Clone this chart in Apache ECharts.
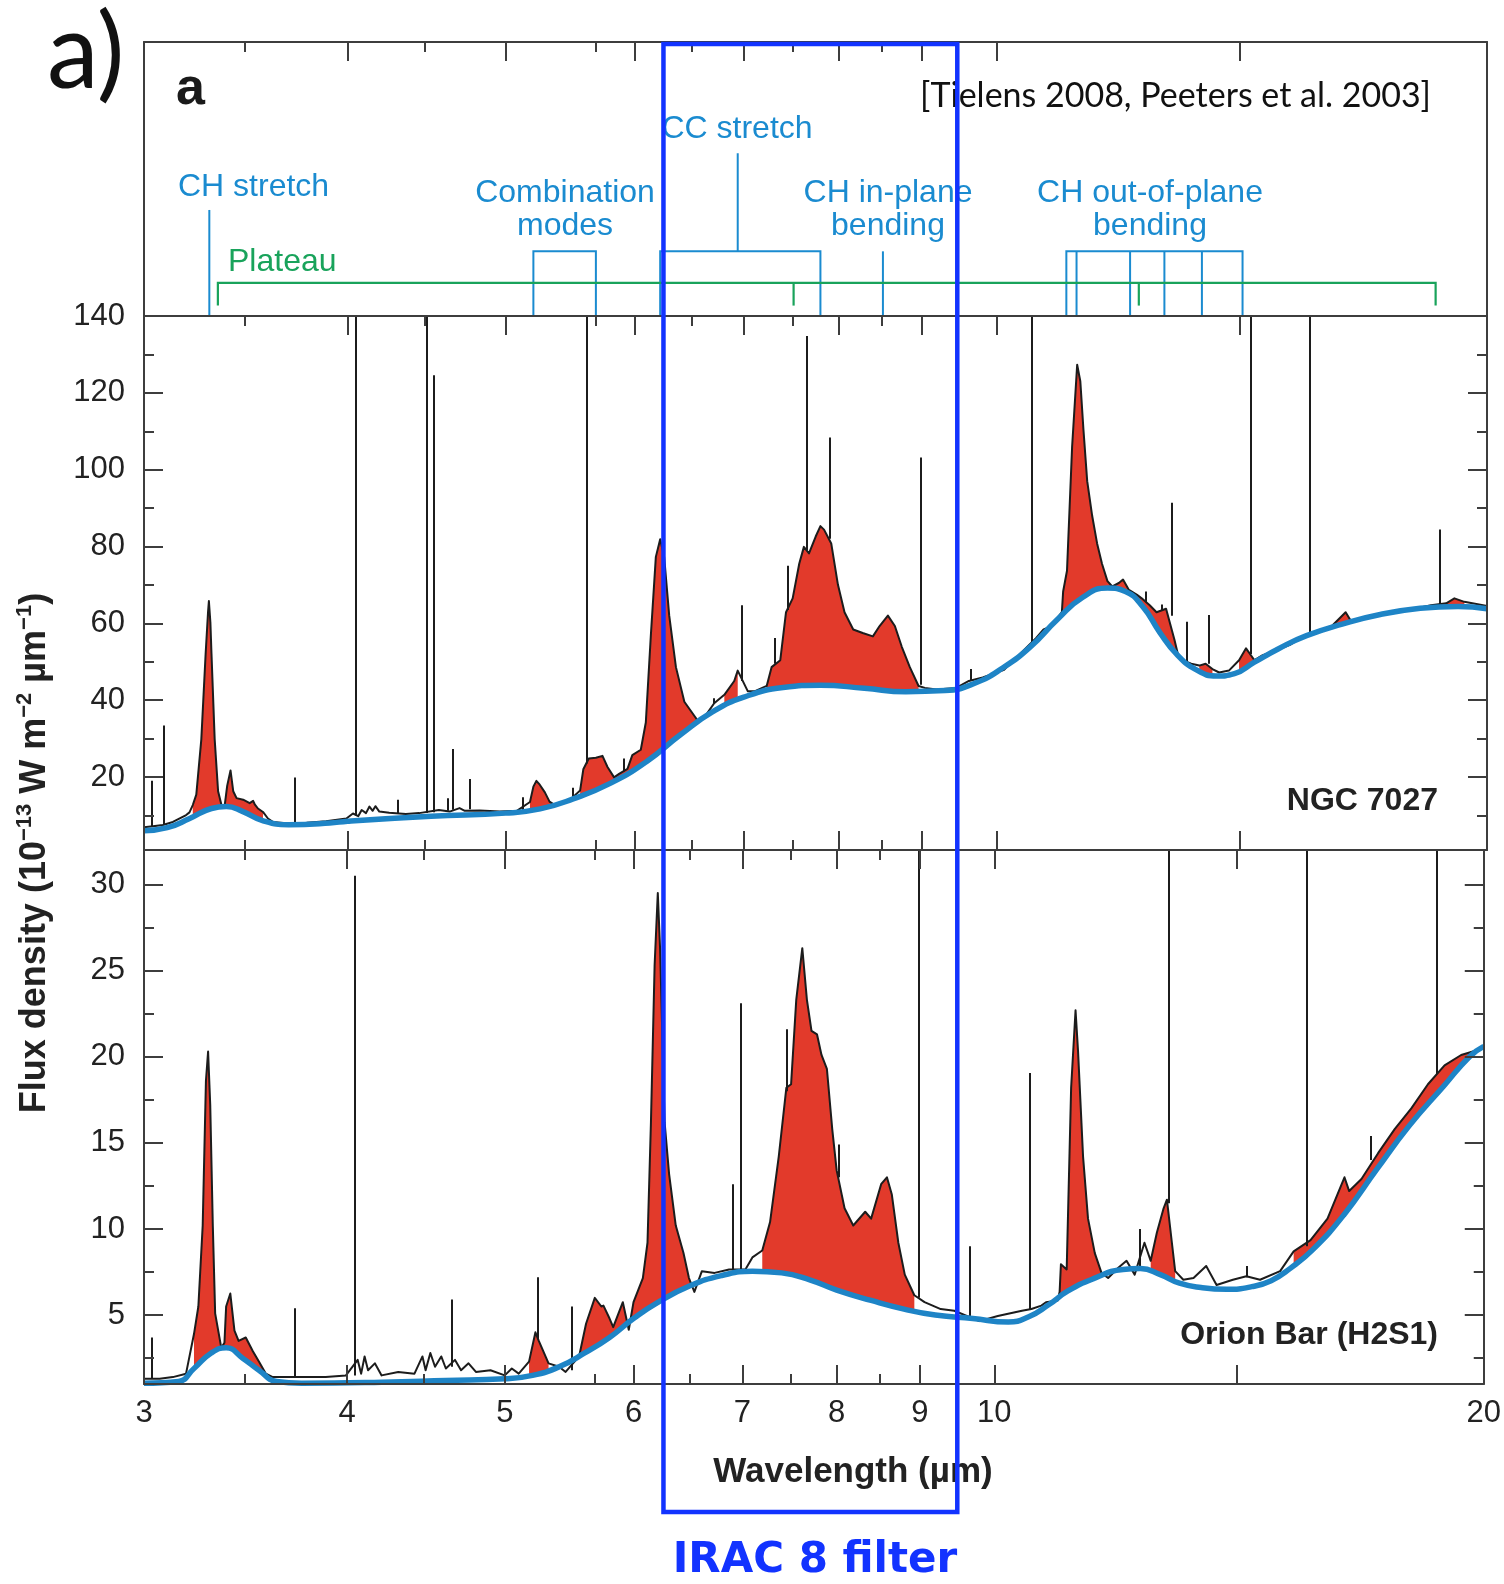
<!DOCTYPE html>
<html><head><meta charset="utf-8">
<script src="https://cdn.jsdelivr.net/npm/echarts@6/dist/echarts.min.js"></script>
<style>html,body{margin:0;padding:0;background:#fff;}#c{width:1504px;height:1584px;}</style>
</head><body><div id="c"></div>
<script>
// ---------------- DATA (wavelength in micron, flux density) ----------------
const ngcSpectrum = [[3.00,6.9],[3.038,7.2],[3.081,7.5],[3.125,8.3],[3.184,10.1],[3.199,10.8],[3.214,12.7],[3.23,15.4],[3.253,29.8],[3.273,52.2],[3.284,62.9],[3.288,65.8],[3.295,60.2],[3.30,52.2],[3.315,29.8],[3.331,16.3],[3.347,12.7],[3.362,12.5],[3.374,17.7],[3.39,21.7],[3.403,16.3],[3.419,14.5],[3.451,14.1],[3.483,13.2],[3.50,13.8],[3.508,12.9],[3.524,11.8],[3.549,10.9],[3.574,9.2],[3.60,8.3],[3.651,8.0],[3.775,8.1],[3.88,8.5],[3.993,9.2],[4.03,10.5],[4.06,9.8],[4.08,11.4],[4.105,10.6],[4.125,12.3],[4.144,11.2],[4.16,12.4],[4.183,11.0],[4.242,10.7],[4.343,10.4],[4.425,10.6],[4.55,11.4],[4.62,11.0],[4.685,11.9],[4.72,11.2],[4.82,11.3],[4.96,11.0],[5.08,11.2],[5.175,13.5],[5.20,17.5],[5.222,19.0],[5.247,18.0],[5.285,16.0],[5.32,13.6],[5.36,12.7],[5.42,13.5],[5.49,14.5],[5.555,16.5],[5.58,22.0],[5.623,24.8],[5.68,25.0],[5.733,25.5],[5.774,22.6],[5.828,19.9],[5.869,20.8],[5.939,22.1],[5.98,25.7],[6.052,27.1],[6.095,34.2],[6.138,56.6],[6.182,77.3],[6.22,81.9],[6.255,77.3],[6.30,62.0],[6.36,48.6],[6.436,39.6],[6.558,34.7],[6.635,36.1],[6.713,39.2],[6.81,41.4],[6.906,45.0],[6.94,47.7],[7.04,42.3],[7.106,42.3],[7.23,43.7],[7.28,48.6],[7.37,50.4],[7.43,62.9],[7.50,66.5],[7.57,75.5],[7.62,79.9],[7.675,78.2],[7.748,82.6],[7.80,85.3],[7.84,84.4],[7.92,80.8],[7.995,70.1],[8.07,62.9],[8.17,58.4],[8.28,57.5],[8.40,56.6],[8.48,59.3],[8.58,62.0],[8.665,59.3],[8.75,53.9],[8.85,48.6],[8.96,43.7],[9.04,43.2],[9.19,42.8],[9.45,43.2],[9.62,45.0],[9.81,45.9],[10.11,47.9],[10.40,53.1],[10.58,56.2],[10.69,58.4],[10.76,58.9],[10.89,61.1],[10.97,62.9],[10.99,68.3],[11.05,73.7],[11.13,105.9],[11.21,127.3],[11.26,123.0],[11.31,110.4],[11.37,97.0],[11.45,88.0],[11.53,80.8],[11.61,75.5],[11.70,71.0],[11.78,69.6],[11.89,70.5],[11.96,71.4],[12.06,68.7],[12.20,67.4],[12.28,66.5],[12.42,64.7],[12.54,62.9],[12.71,63.8],[12.86,55.8],[12.92,52.2],[13.01,50.4],[13.17,49.5],[13.32,49.0],[13.44,49.5],[13.57,48.1],[13.70,47.2],[13.89,47.7],[14.09,50.4],[14.23,53.5],[14.40,50.4],[14.57,51.7],[14.78,52.6],[15.14,54.4],[15.50,57.1],[15.66,57.5],[16.03,58.9],[16.38,62.9],[16.50,60.7],[16.81,61.6],[17.22,62.5],[17.63,63.4],[18.05,63.8],[18.48,64.7],[18.88,65.2],[19.10,66.5],[19.37,65.6],[20.0,64.5]];

const ngcContinuum = [[3.00,6.0],[3.10,6.8],[3.20,9.2],[3.30,11.8],[3.37,12.3],[3.45,11.0],[3.55,8.6],[3.68,7.6],[3.90,8.0],[4.00,8.5],[4.50,9.8],[5.00,10.6],[5.25,11.7],[5.50,14.3],[5.80,18.4],[6.10,24.0],[6.40,31.0],[6.70,37.0],[7.00,40.8],[7.40,43.3],[7.80,43.9],[8.30,43.1],[8.80,42.2],[9.30,42.5],[9.70,44.4],[10.10,48.5],[10.50,54.0],[10.90,61.0],[11.30,66.8],[11.70,69.2],[12.00,68.3],[12.30,64.3],[12.60,57.6],[12.90,52.0],[13.25,48.0],[13.65,46.3],[14.00,46.9],[14.40,49.9],[14.90,53.4],[15.50,56.8],[16.30,59.8],[17.20,62.3],[18.20,63.9],[19.20,64.4],[20.0,63.8]];

// narrow emission lines: [wavelength, base, peak]
const ngcLines = [[3.034,7.2,19.0],[3.084,7.5,33.4],[3.712,8.0,19.9],[4.046,10.0,150],[4.291,10.6,14.1],[4.470,10.6,150],[4.516,10.8,124.6],[4.605,11.2,14.5],[4.638,11.5,27.3],[4.755,11.6,19.5],[5.125,11.1,14.7],[5.50,14.6,17.2],[5.61,23.5,150],[5.91,21.5,24.8],[6.71,39.0,40.5],[6.98,45.0,64.7],[7.31,49.5,56.2],[7.45,63.5,75.0],[7.65,79.0,134.8],[7.90,82.0,108.4],[8.99,44.0,103.2],[9.64,45.0,48.1],[10.51,55.0,150],[12.35,65.5,68.3],[12.64,63.5,64.9],[12.81,62.0,91.4],[13.09,50.0,60.4],[13.50,49.5,62.2],[14.32,52.0,150],[15.56,57.0,150],[18.72,65.0,84.4]];

// wavelength ranges where the PAH emission is shaded
const ngcPahRanges = [[3.20,3.56],[5.15,5.40],[5.55,6.56],[6.75,6.95],[7.2,9.0],[10.95,13.05],[13.2,13.6],[13.95,14.45],[15.6,17.4],[18.3,19.6]];

const orionSpectrum = [[3.00,1.3],[3.067,1.3],[3.125,1.4],[3.184,1.6],[3.22,3.9],[3.24,5.5],[3.26,10.2],[3.275,18.6],[3.285,20.3],[3.295,17.2],[3.307,10.2],[3.318,5.1],[3.347,3.1],[3.362,3.4],[3.37,5.5],[3.39,6.25],[3.41,4.1],[3.43,3.5],[3.465,3.7],[3.50,2.9],[3.53,2.3],[3.565,1.6],[3.60,1.4],[3.775,1.4],[3.88,1.4],[3.993,1.5],[4.06,2.4],[4.08,1.6],[4.10,2.6],[4.12,1.8],[4.16,2.2],[4.20,1.5],[4.30,1.7],[4.40,1.6],[4.45,2.6],[4.47,1.8],[4.50,2.8],[4.53,2.0],[4.57,2.6],[4.60,1.9],[4.66,2.4],[4.70,1.8],[4.75,2.2],[4.80,1.7],[4.90,1.8],[5.00,1.5],[5.05,1.9],[5.10,1.6],[5.175,2.3],[5.222,4.0],[5.247,3.5],[5.32,2.2],[5.40,2.0],[5.45,1.7],[5.555,2.6],[5.61,4.5],[5.68,6.0],[5.733,5.5],[5.75,5.55],[5.80,4.8],[5.83,4.3],[5.91,5.75],[5.96,4.15],[6.0,5.75],[6.08,7.15],[6.12,9.2],[6.15,16.2],[6.182,25.3],[6.21,29.5],[6.23,26.3],[6.27,16.2],[6.31,13.2],[6.37,10.2],[6.44,8.6],[6.49,7.15],[6.54,6.35],[6.61,7.55],[6.73,7.45],[6.87,7.65],[7.03,7.65],[7.10,8.35],[7.20,8.75],[7.28,10.4],[7.37,14.2],[7.45,18.2],[7.50,18.4],[7.555,23.3],[7.62,26.3],[7.67,23.3],[7.72,21.5],[7.78,21.3],[7.83,20.1],[7.89,19.3],[7.95,15.8],[8.00,13.4],[8.09,11.2],[8.19,10.2],[8.33,11.0],[8.40,10.6],[8.52,12.6],[8.59,13.0],[8.65,12.0],[8.73,9.2],[8.81,7.35],[8.93,6.15],[9.06,5.75],[9.27,5.35],[9.45,5.25],[9.79,4.65],[10.05,4.95],[10.40,5.25],[10.54,5.35],[10.69,5.55],[10.76,5.75],[10.94,5.85],[10.97,6.35],[10.99,7.95],[11.08,7.65],[11.15,18.2],[11.22,22.7],[11.26,20.3],[11.34,14.2],[11.42,10.6],[11.53,8.6],[11.64,7.45],[11.75,7.15],[11.92,7.75],[12.06,8.15],[12.20,7.35],[12.37,9.2],[12.48,8.15],[12.59,9.8],[12.71,11.2],[12.77,11.7],[12.86,9.2],[12.92,7.55],[13.07,7.05],[13.26,7.15],[13.50,7.85],[13.70,6.75],[14.02,7.05],[14.29,7.25],[14.57,7.05],[14.99,7.55],[15.28,8.7],[15.65,9.35],[16.03,10.6],[16.42,13.0],[16.53,12.2],[16.82,12.9],[17.22,14.4],[17.63,15.8],[18.05,17.0],[18.48,18.4],[18.92,19.5],[19.37,20.1],[20.0,20.5]];

const orionContinuum = [[3.00,1.05],[3.15,1.15],[3.22,1.9],[3.30,2.8],[3.37,3.1],[3.45,2.5],[3.53,1.8],[3.62,1.15],[3.75,1.05],[4.20,1.1],[4.60,1.2],[5.00,1.3],[5.20,1.5],[5.40,2.0],[5.60,2.8],[5.80,3.7],[6.00,4.8],[6.20,5.7],[6.50,6.7],[6.80,7.3],[7.10,7.55],[7.40,7.45],[7.70,7.05],[8.00,6.45],[8.40,5.85],[8.80,5.35],[9.20,5.0],[9.70,4.8],[10.20,4.6],[10.50,4.9],[10.80,5.6],[11.10,6.4],[11.50,7.1],[12.00,7.65],[12.30,7.7],[12.65,7.35],[13.00,6.85],[13.40,6.6],[13.90,6.5],[14.40,6.65],[14.80,7.0],[15.20,7.7],[15.70,8.8],[16.40,10.8],[17.20,13.5],[18.00,16.0],[18.90,18.3],[19.60,20.0],[20.0,20.6]];

const orionLines = [[3.034,1.3,3.7],[3.712,1.4,5.4],[4.046,1.5,30.5],[4.638,2.0,5.9],[5.24,3.6,7.2],[5.50,1.8,5.5],[6.91,7.6,12.6],[6.985,7.65,23.1],[7.45,18.0,21.6],[8.02,13.0,14.9],[8.99,6.0,34],[9.66,4.8,9.0],[10.51,5.3,19.05],[12.28,7.7,10.0],[12.81,11.5,34],[14.29,7.2,7.85],[15.56,9.0,34],[17.05,14.0,15.4],[18.72,19.0,34]];

const orionPahRanges = [[3.20,3.57],[5.15,5.33],[5.55,6.56],[7.15,8.95],[10.97,11.65],[12.45,12.93],[13.35,13.65],[15.2,20.0]];

// axis ticks / labels
const xMajorTicks = [4,5,6,7,8,9,10,14.1];
const xMinorTicks = [3.46,4.46,5.68,6.5,7.5,8.5];
const xTickLabels = [3,4,5,6,7,8,9,10,20];
const ngcYRange = [1,140];
const ngcYMajor = [20,40,60,80,100,120,140];
const ngcYMinor = [10,30,50,70,90,110,130];
const orionYRange = [1,32];
const orionYMajor = [5,10,15,20,25,30];
const orionYMinor = [2.5,7.5,12.5,17.5,22.5,27.5];

// band assignment annotations (wavelengths in micron, heights as fraction of the annotation strip)
const chStretchX = 3.29;
const plateauRange = [3.33,18.6];
const plateauTicks = [7.51,12.23];
const combinationRange = [5.20,5.68];
const ccRange = [6.22,7.80];
const ccStemX = 6.94;
const inPlaneX = 8.52;
const outOfPlaneTicks = [11.04,11.2,12.08,12.68,13.37,14.16];
const bracketLevel = 0.236, plateauLevel = 0.121, plateauFoot = 0.038, chStemTop = 0.387, ccStemTop = 0.594;

const iracRange = [6.26,9.49];

// ---------------- STYLE ----------------
const RED='#e23a2b', CONT='#1e84c6', BLACK='#1c1c1c', ANNBLUE='#1a8bd0', GREEN='#19a35b', IRAC='#1233ff', AX='#3d3d3d';
const FONT='Liberation Sans';
const L = v => Math.log10(v);
const X0 = L(3), X1 = L(20);
const xy = p => [L(p[0]), p[1]];

function xAxis(gi, pos, ticks, len, line, labels) {
  return {
    type:'value', gridIndex:gi, position:pos, min:X0, max:X1, z:6,
    axisLine:{show:line, onZero:false, lineStyle:{color:AX, width:2}},
    axisTick: ticks ? {show:true, inside:true, length:len, customValues:ticks.map(L), lineStyle:{color:AX, width:2}} : {show:false},
    axisLabel: labels ? {show:true, customValues:labels.map(L), formatter:v=>String(Math.round(Math.pow(10,v))), fontSize:31, fontFamily:FONT, color:'#222', margin:14} : {show:false},
    splitLine:{show:false}
  };
}
function yAxis(gi, pos, range, ticks, len, line, labels) {
  return {
    type:'value', gridIndex:gi, position:pos, min:range[0], max:range[1], z:6,
    axisLine:{show:line, onZero:false, lineStyle:{color:AX, width:2}},
    axisTick: ticks ? {show:true, inside:true, length:len, customValues:ticks, lineStyle:{color:AX, width:2}} : {show:false},
    axisLabel: labels ? {show:true, customValues:labels, fontSize:31, fontFamily:FONT, color:'#222', margin:19} : {show:false},
    splitLine:{show:false}
  };
}

const xAxes = [
  xAxis(0,'top',xMajorTicks,19,true,null),      //0
  xAxis(0,'top',xMinorTicks,10,false,null),     //1
  xAxis(0,'bottom',null,0,true,null),           //2
  xAxis(1,'top',xMajorTicks,19,true,null),      //3
  xAxis(1,'top',xMinorTicks,10,false,null),     //4
  xAxis(1,'bottom',xMajorTicks,19,true,null),   //5
  xAxis(1,'bottom',xMinorTicks,10,false,null),  //6
  xAxis(2,'top',xMajorTicks,19,true,null),      //7
  xAxis(2,'top',xMinorTicks,10,false,null),     //8
  xAxis(2,'bottom',xMajorTicks,19,true,xTickLabels), //9
  xAxis(2,'bottom',xMinorTicks,10,false,null)   //10
];
const yAxes = [
  yAxis(0,'left',[0,1],null,0,true,null),        //0
  yAxis(0,'right',[0,1],null,0,true,null),       //1
  yAxis(1,'left',ngcYRange,ngcYMajor,19,true,ngcYMajor), //2
  yAxis(1,'left',ngcYRange,ngcYMinor,10,false,null),     //3
  yAxis(1,'right',ngcYRange,ngcYMajor,19,true,null),     //4
  yAxis(1,'right',ngcYRange,ngcYMinor,10,false,null),    //5
  yAxis(2,'left',orionYRange,orionYMajor,19,true,orionYMajor), //6
  yAxis(2,'left',orionYRange,orionYMinor,10,false,null),       //7
  yAxis(2,'right',orionYRange,orionYMajor,19,true,null),       //8
  yAxis(2,'right',orionYRange,orionYMinor,10,false,null)       //9
];

const series = [];
const blueBrackets = [
  [[chStretchX,0],[chStretchX,chStemTop]],
  [[combinationRange[0],0],[combinationRange[0],bracketLevel],[combinationRange[1],bracketLevel],[combinationRange[1],0]],
  [[ccRange[0],0],[ccRange[0],bracketLevel],[ccRange[1],bracketLevel],[ccRange[1],0]],
  [[ccStemX,bracketLevel],[ccStemX,ccStemTop]],
  [[inPlaneX,0],[inPlaneX,bracketLevel]],
  [[outOfPlaneTicks[0],0],[outOfPlaneTicks[0],bracketLevel],[outOfPlaneTicks[outOfPlaneTicks.length-1],bracketLevel],[outOfPlaneTicks[outOfPlaneTicks.length-1],0]]
].concat(outOfPlaneTicks.slice(1,-1).map(t=>[[t,0],[t,bracketLevel]]));
const greenBrackets = [
  [[plateauRange[0],plateauFoot],[plateauRange[0],plateauLevel],[plateauRange[1],plateauLevel],[plateauRange[1],plateauFoot]]
].concat(plateauTicks.map(t=>[[t,plateauLevel],[t,plateauFoot]]));

series.push({type:'lines', coordinateSystem:'cartesian2d', xAxisIndex:2, yAxisIndex:0, polyline:true, silent:true, z:5,
  lineStyle:{color:ANNBLUE, width:2, opacity:1}, data: blueBrackets.map(c=>({coords:c.map(xy)}))});
series.push({type:'lines', coordinateSystem:'cartesian2d', xAxisIndex:2, yAxisIndex:0, polyline:true, silent:true, z:5,
  lineStyle:{color:GREEN, width:2.2, opacity:1}, data: greenBrackets.map(c=>({coords:c.map(xy)}))});

function panel(xi, yi, spec, cont, lines, ranges) {
  ranges.forEach(r => series.push({type:'line', xAxisIndex:xi, yAxisIndex:yi, silent:true, symbol:'none', z:1,
    data: spec.filter(p=>p[0]>=r[0] && p[0]<=r[1]).map(xy),
    lineStyle:{opacity:0}, areaStyle:{color:RED, opacity:1, origin:'start'}}));
  series.push({type:'line', xAxisIndex:xi, yAxisIndex:yi, silent:true, symbol:'none', z:2, smooth:0.5,
    data: cont.map(xy), lineStyle:{opacity:0}, areaStyle:{color:'#ffffff', opacity:1, origin:'start'}});
  series.push({type:'line', xAxisIndex:xi, yAxisIndex:yi, silent:true, symbol:'none', z:3,
    data: spec.map(xy), lineStyle:{color:BLACK, width:2, join:'round'}});
  series.push({type:'lines', coordinateSystem:'cartesian2d', xAxisIndex:xi, yAxisIndex:yi, silent:true, z:3, clip:true,
    data: lines.map(l=>({coords:[[L(l[0]),l[1]],[L(l[0]),l[2]]]})), lineStyle:{color:BLACK, width:2, opacity:1}});
  series.push({type:'line', xAxisIndex:xi, yAxisIndex:yi, silent:true, symbol:'none', z:4, smooth:0.5,
    data: cont.map(xy), lineStyle:{color:CONT, width:5.5}});
}
panel(5, 2, ngcSpectrum, ngcContinuum, ngcLines, ngcPahRanges);
panel(9, 6, orionSpectrum, orionContinuum, orionLines, orionPahRanges);

const chart = echarts.init(document.getElementById('c'), null, {renderer:'canvas', width:1504, height:1584});
chart.setOption({
  animation:false,
  backgroundColor:'#ffffff',
  textStyle:{fontFamily:FONT},
  grid:[
    {left:144, right:17, top:42, height:274},
    {left:144, right:17, top:316, height:534},
    {left:144, right:17, top:850, height:534}
  ],
  xAxis:xAxes, yAxis:yAxes, series:series
});

const xl = chart.convertToPixel({xAxisIndex:9}, L(iracRange[0]));
const xr = chart.convertToPixel({xAxisIndex:9}, L(iracRange[1]));
const ann = (txt, x, y, color, align) => ({type:'text', x:x, y:y, z:50, style:{text:txt, fill:color, font:'32px "Liberation Sans"', align:align||'center', verticalAlign:'middle'}});
chart.setOption({graphic:[
  {type:'text', x:47, y:54, z:50, style:{text:'a)', fill:'#111', font:'104px Lato', align:'left', verticalAlign:'middle'}},
  {type:'text', x:176, y:90, z:50, style:{text:'a', fill:'#1a1a1a', font:'bold 52px "Liberation Sans"', align:'left', verticalAlign:'middle'}},
  {type:'text', x:1431, y:96, z:50, style:{text:'[Tielens 2008, Peeters et al. 2003]', fill:'#111', font:'34px Lato', align:'right', verticalAlign:'middle'}},
  ann('CH stretch', 178, 187, ANNBLUE, 'left'),
  ann('Plateau', 228, 262, GREEN, 'left'),
  ann('Combination', 565, 193, ANNBLUE),
  ann('modes', 565, 226, ANNBLUE),
  ann('CC stretch', 737, 129, ANNBLUE),
  ann('CH in-plane', 888, 193, ANNBLUE),
  ann('bending', 888, 226, ANNBLUE),
  ann('CH out-of-plane', 1150, 193, ANNBLUE),
  ann('bending', 1150, 226, ANNBLUE),
  {type:'text', x:1438, y:801, z:50, style:{text:'NGC 7027', fill:'#222', font:'bold 32px "Liberation Sans"', align:'right', verticalAlign:'middle'}},
  {type:'text', x:1438, y:1335, z:50, style:{text:'Orion Bar (H2S1)', fill:'#222', font:'bold 32px "Liberation Sans"', align:'right', verticalAlign:'middle'}},
  {type:'text', x:853, y:1472, z:50, style:{text:'Wavelength (µm)', fill:'#222', font:'bold 35px "Liberation Sans"', align:'center', verticalAlign:'middle'}},
  {type:'text', x:35, y:853, rotation:Math.PI/2, z:50, style:{
    text:'{b|Flux density (10}{s|−13}{b| W m}{s|−2}{b| µm}{s|−1}{b|)}',
    align:'center', verticalAlign:'middle',
    rich:{
      b:{fontSize:36, fontWeight:'bold', fontFamily:FONT, fill:'#222', lineHeight:42},
      s:{fontSize:22, fontWeight:'bold', fontFamily:FONT, fill:'#222', verticalAlign:'top', lineHeight:27}
    }}},
  {type:'rect', z:100, shape:{x:xl, y:44, width:xr-xl, height:1468}, style:{fill:'none', stroke:IRAC, lineWidth:4.5}},
  {type:'text', x:815, y:1561, z:100, style:{text:'IRAC 8 filter', fill:IRAC, font:'bold 42px "DejaVu Sans"', align:'center', verticalAlign:'middle'}}
]});
</script></body></html>
